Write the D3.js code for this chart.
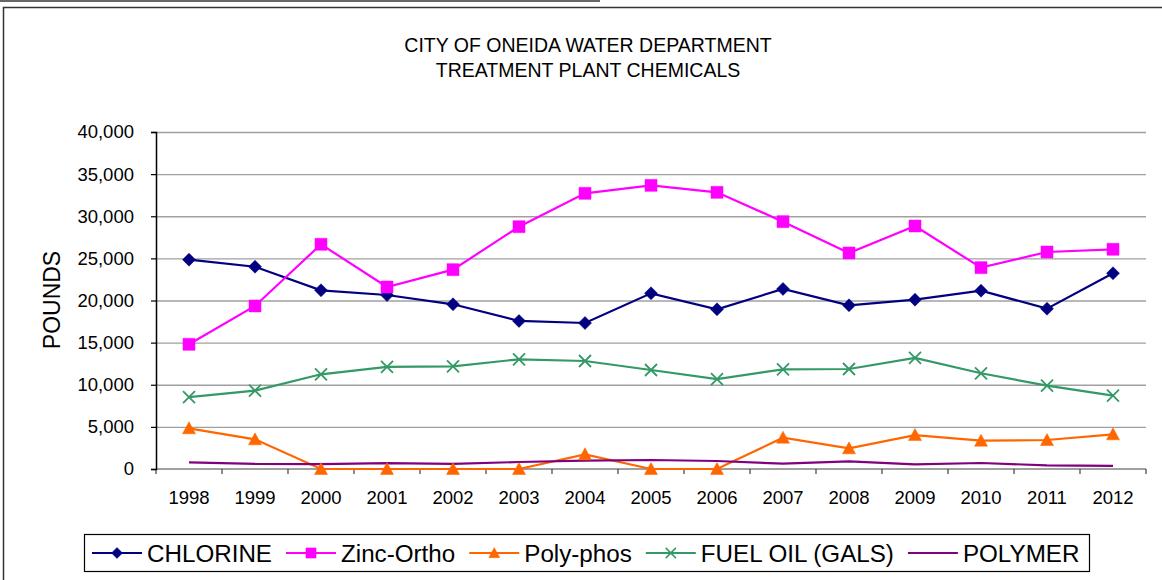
<!DOCTYPE html>
<html>
<head>
<meta charset="utf-8">
<script src="https://cdn.jsdelivr.net/npm/d3@7"></script>
<style>
  body { margin: 0; background: #fff; }
  svg { display: block; font-family: "Liberation Sans", Arial, sans-serif; }
</style>
</head>
<body>
<div id="container"></div>
<script>
/* DATA */
const years = ["1998", "1999", "2000", "2001", "2002", "2003", "2004", "2005",
  "2006", "2007", "2008", "2009", "2010", "2011", "2012"];
const chlorine = [24850, 24010, 21210, 20650, 19550, 17570, 17330, 20850,
  18950, 21370, 19430, 20100, 21170, 19030, 23230];
const zincOrtho = [14800, 19350, 26670, 21600, 23660, 28760, 32720, 33670,
  32840, 29360, 25640, 28840, 23900, 25760, 26080];
const polyPhos = [4830, 3520, 0, 0, 0, 0, 1740, 0, 0, 3720, 2450, 4030,
  3360, 3440, 4120];
const fuelOil = [8540, 9300, 11240, 12110, 12190, 13020, 12820, 11750,
  10680, 11830, 11870, 13180, 11360, 9890, 8700];
const polymer = [790, 600, 590, 700, 600, 830, 990, 1070, 950, 630, 910,
  560, 710, 430, 360];
const yTicks = [0, 5000, 10000, 15000, 20000, 25000, 30000, 35000, 40000];
const titleLines = ["CITY OF ONEIDA WATER DEPARTMENT", "TREATMENT PLANT CHEMICALS"];

/* CONSTANTS AND GLOBALS */
const width = 1162,
  height = 580,
  margin = { top: 132, bottom: 111, left: 156, right: 16 };

const series = [
  { name: "CHLORINE", values: chlorine, color: "#000080", marker: "diamond" },
  { name: "Zinc-Ortho", values: zincOrtho, color: "#FF00FF", marker: "square" },
  { name: "Poly-phos", values: polyPhos, color: "#FF6600", marker: "triangle" },
  { name: "FUEL OIL (GALS)", values: fuelOil, color: "#339966", marker: "x" },
  { name: "POLYMER", values: polymer, color: "#800080", marker: null }
];

// marker shapes, drawn around 0,0
const markerPath = {
  diamond: "M0,-6.5L6.5,0L0,6.5L-6.5,0Z",
  square: "M-6,-6H6V6H-6Z",
  triangle: "M0,-6.5L6.5,5.5H-6.5Z",
  x: "M-6,-6L6,6M-6,6L6,-6"
};

/* SCALES */
const xScale = d3.scaleBand()
  .domain(years)
  .range([margin.left, width - margin.right])
  .padding(0);

const yScale = d3.scaleLinear()
  .domain([0, 40000])
  .range([height - margin.bottom, margin.top]);

const xPos = (d, i) => xScale(years[i]) + xScale.bandwidth() / 2;

/* HTML ELEMENTS */
const svg = d3.select("#container")
  .append("svg")
  .attr("width", width)
  .attr("height", height);

// frame
svg.append("line")
  .attr("x1", 0).attr("x2", 600)
  .attr("y1", 1).attr("y2", 1)
  .attr("stroke", "#666")
  .attr("stroke-width", 2);

svg.append("rect")
  .attr("x", 3.5).attr("y", 7.5)
  .attr("width", 1200).attr("height", 600)
  .attr("fill", "none")
  .attr("stroke", "#333")
  .attr("stroke-width", 1.5);

// title
svg.append("text")
  .attr("x", 588)
  .attr("text-anchor", "middle")
  .attr("font-size", 19.5)
  .attr("fill", "#000")
  .selectAll("tspan")
  .data(titleLines)
  .join("tspan")
  .attr("x", 588)
  .attr("y", (d, i) => 52 + i * 25)
  .text(d => d);

// gridlines
svg.append("g")
  .attr("transform", `translate(${margin.left},0)`)
  .call(d3.axisLeft(yScale).tickValues(yTicks.slice(1))
    .tickSize(-(width - margin.left - margin.right)).tickFormat(""))
  .call(g => g.select(".domain").remove())
  .call(g => g.selectAll("line").attr("stroke", "#a0a0a0").attr("stroke-width", 1.3));

// x axis (ticks on category boundaries)
const xAxisG = svg.append("g")
  .attr("transform", `translate(0,${yScale(0)})`);

xAxisG.append("line")
  .attr("x1", margin.left).attr("x2", width - margin.right)
  .attr("stroke", "#808080").attr("stroke-width", 1.5);

xAxisG.selectAll(".btick")
  .data(years.concat(["end"]))
  .join("line")
  .attr("class", "btick")
  .attr("x1", (d, i) => margin.left + i * xScale.bandwidth())
  .attr("x2", (d, i) => margin.left + i * xScale.bandwidth())
  .attr("y1", 0).attr("y2", 5)
  .attr("stroke", "#404040").attr("stroke-width", 1.2);

xAxisG.selectAll(".xlabel")
  .data(years)
  .join("text")
  .attr("class", "xlabel")
  .attr("x", d => xScale(d) + xScale.bandwidth() / 2)
  .attr("y", 35)
  .attr("text-anchor", "middle")
  .attr("font-size", 18.5)
  .attr("fill", "#000")
  .text(d => d);

// y axis
svg.append("g")
  .attr("transform", `translate(${margin.left},0)`)
  .call(d3.axisLeft(yScale).tickValues(yTicks).tickSize(5).tickPadding(17)
    .tickFormat(d3.format(",")))
  .call(g => g.select(".domain").attr("stroke", "#000").attr("stroke-width", 1.5))
  .call(g => g.selectAll(".tick line").attr("stroke", "#000").attr("stroke-width", 1.2))
  .call(g => g.selectAll(".tick text")
    .attr("font-size", 18.5)
    .attr("font-family", "Liberation Sans, Arial, sans-serif")
    .attr("fill", "#000"));

// y title
svg.append("text")
  .attr("transform", "translate(60,300) rotate(-90)")
  .attr("text-anchor", "middle")
  .attr("font-size", 23)
  .attr("fill", "#000")
  .text("POUNDS");

// lines
const line = d3.line()
  .x(xPos)
  .y(d => yScale(d));

svg.selectAll(".series")
  .data(series)
  .join("path")
  .attr("class", "series")
  .attr("d", d => line(d.values))
  .attr("fill", "none")
  .attr("stroke", d => d.color)
  .attr("stroke-width", 2.2);

// markers
series.filter(s => s.marker).forEach(s => {
  svg.append("g")
    .selectAll("path")
    .data(s.values)
    .join("path")
    .attr("transform", (d, i) => `translate(${xPos(d, i)},${yScale(d)})`)
    .attr("d", markerPath[s.marker])
    .attr("fill", s.marker === "x" ? "none" : s.color)
    .attr("stroke", s.color)
    .attr("stroke-width", s.marker === "x" ? 1.8 : 0.5);
});

// legend
const legend = svg.append("g");
legend.append("rect")
  .attr("x", 84.5).attr("y", 534.5)
  .attr("width", 1005).attr("height", 37)
  .attr("fill", "#fff")
  .attr("stroke", "#000")
  .attr("stroke-width", 1.2);

let lx = 92;
series.forEach(s => {
  const item = legend.append("g").attr("transform", `translate(${lx},553)`);
  item.append("line")
    .attr("x1", 0).attr("x2", 50)
    .attr("stroke", s.color).attr("stroke-width", 2.2);
  if (s.marker) {
    item.append("path")
      .attr("transform", "translate(25,0) scale(0.85)")
      .attr("d", markerPath[s.marker])
      .attr("fill", s.marker === "x" ? "none" : s.color)
      .attr("stroke", s.color)
      .attr("stroke-width", s.marker === "x" ? 1.8 : 0.5);
  }
  const t = item.append("text")
    .attr("x", 55)
    .attr("y", 8.5)
    .attr("font-size", 24.2)
    .attr("fill", "#000")
    .text(s.name);
  lx += 55 + t.node().getComputedTextLength() + 14;
});
</script>
</body>
</html>
